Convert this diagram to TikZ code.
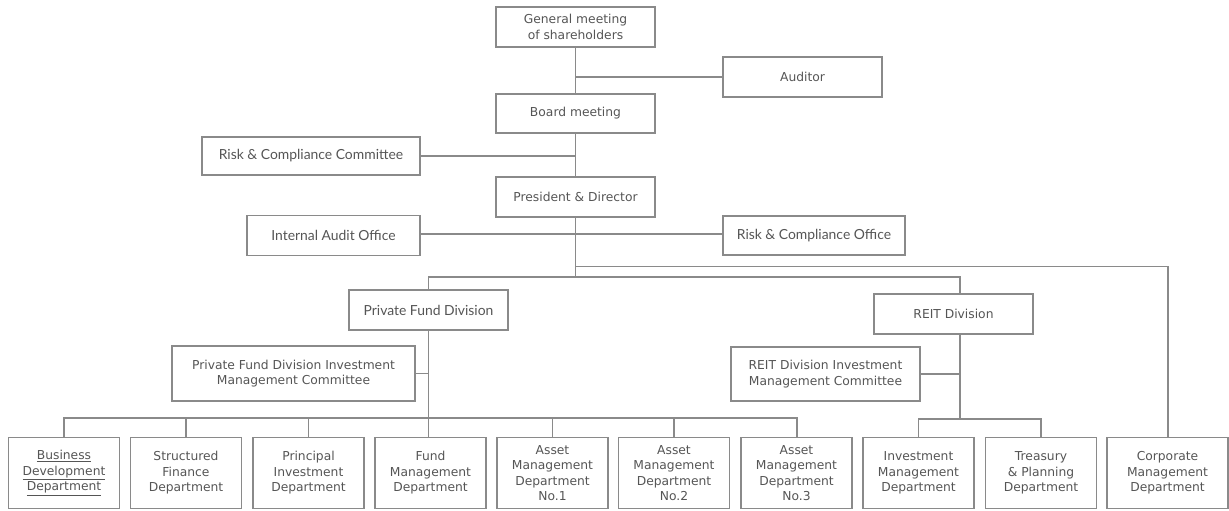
\documentclass[tikz,border=0pt]{standalone}
\usepackage{fontspec}
\setmainfont{DejaVu Sans}
\newfontfamily\latofont{Lato}
\definecolor{linegray}{HTML}{8A8A8A}
\definecolor{txtgray}{HTML}{555555}
\begin{document}
\begin{tikzpicture}[x=1pt,y=-1pt,
  box/.style={draw=linegray,line width=1.1pt,text=txtgray,align=center,inner sep=0pt,
    font=\fontsize{12.3}{15.5}\selectfont},
  lbox/.style={box,font=\latofont\fontsize{13.9}{16}\selectfont},
  dept/.style={box,minimum width=111pt,minimum height=71pt},
  conn/.style={draw=linegray,line width=1.1pt}]
\useasboundingbox (0,0) rectangle (1229,511);
% top chain
\node[box,minimum width=159pt,minimum height=40pt] (gm) at (575.5,27) {General meeting\\of shareholders};
\node[box,minimum width=159pt,minimum height=40pt] (aud) at (802.5,77) {Auditor};
\node[box,minimum width=159pt,minimum height=39pt] (bm) at (575.5,113.5) {Board meeting};
\node[lbox,minimum width=218pt,minimum height=38pt] (rcc) at (311,156) {Risk \& Compliance Committee};
\node[box,minimum width=159pt,minimum height=40pt] (pd) at (575.5,197) {President \& Director};
\node[lbox,minimum width=173pt,minimum height=40pt] (iao) at (333.5,235.5) {Internal Audit Office};
\node[lbox,minimum width=182pt,minimum height=39pt] (rco) at (814,235.5) {Risk \& Compliance Office};
\node[lbox,minimum width=159pt,minimum height=40pt] (pfd) at (428.5,310) {Private Fund Division};
\node[box,minimum width=159pt,minimum height=40pt] (reit) at (953.5,314) {REIT Division};
\node[box,minimum width=243pt,minimum height=55pt] (pfc) at (293.5,373.5) {Private Fund Division Investment\\Management Committee};
\node[box,minimum width=189pt,minimum height=54pt] (rc) at (825.5,374) {REIT Division Investment\\Management Committee};
% departments
\node[dept] (bd) at (64,473) {\underline{Business}\\\underline{Development}\\\underline{Department}};
\node[dept] (sf) at (186,473) {Structured\\Finance\\Department};
\node[dept] (pi) at (308.5,473) {Principal\\Investment\\Department};
\node[dept] (fm) at (430.5,473) {Fund\\Management\\Department};
\node[dept] (am1) at (552.5,473) {Asset\\Management\\Department\\No.1};
\node[dept] (am2) at (674,473) {Asset\\Management\\Department\\No.2};
\node[dept] (am3) at (796.5,473) {Asset\\Management\\Department\\No.3};
\node[dept] (im) at (918.5,473) {Investment\\Management\\Department};
\node[dept] (tp) at (1041,473) {Treasury\\\& Planning\\Department};
\node[dept,minimum width=121pt] (cm) at (1167.5,473) {Corporate\\Management\\Department};
% junction coordinates
\coordinate (jaud) at (575.5,77);
\coordinate (jrcc) at (575.5,156);
\coordinate (jio) at (575.5,234);
\coordinate (jcm) at (575.5,266.5);
\coordinate (jdiv) at (575.5,277);
\coordinate (pftop) at (428.5,277);
\coordinate (reittop) at (960,277);
\coordinate (reitbot) at (960,334);
\coordinate (jrc) at (960,374);
\coordinate (jreit) at (960,419);
\coordinate (pfbot) at (428.5,330);
\coordinate (jpfc) at (428.5,373.5);
\coordinate (jpf) at (428.5,418);
\coordinate (cmtop) at (1168,266.5);
% connectors
\draw[conn] (gm.south) -- (bm.north);
\draw[conn] (jaud) -- (aud.west);
\draw[conn] (bm.south) -- (pd.north);
\draw[conn] (jrcc) -- (rcc.east);
\draw[conn] (pd.south) -- (jdiv);
\draw[conn] (iao.east |- jio) -- (rco.west |- jio);
\draw[conn] (jcm) -- (cmtop) -- (cm.north -| cmtop);
\draw[conn] (pfd.north -| pftop) -- (pftop) -- (reittop) -- (reit.north -| reittop);
\draw[conn] (reitbot) -- (jreit);
\draw[conn] (jrc) -- (rc.east);
\draw[conn] (pfbot) -- (fm.north -| pfbot);
\draw[conn] (jpfc) -- (pfc.east);
\draw[conn] (bd.north -| 64,0) -- (64,418) -- (797,418) -- (am3.north -| 797,0);
\draw[conn] (sf.north) -- (sf.north |- jpf);
\draw[conn] (pi.north) -- (pi.north |- jpf);
\draw[conn] (am1.north) -- (am1.north |- jpf);
\draw[conn] (am2.north) -- (am2.north |- jpf);
\draw[conn] (im.north) -- (im.north |- jreit) -- (tp.north |- jreit) -- (tp.north);
\end{tikzpicture}
\end{document}
